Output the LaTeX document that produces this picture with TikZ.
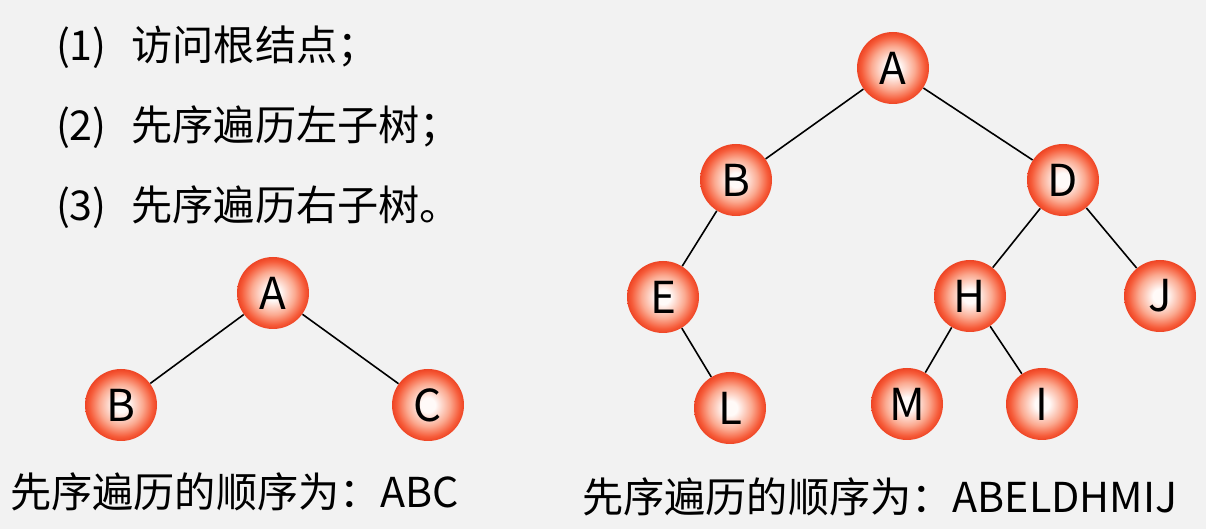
\documentclass[tikz,border=0pt]{standalone}
\usepackage{fontspec}
\setmainfont{Noto Sans CJK SC}
\definecolor{bggray}{RGB}{242,242,242}
\definecolor{ballin}{RGB}{255,250,248}
\definecolor{ballmid}{RGB}{251,170,145}
\definecolor{ballout}{RGB}{246,92,58}
\definecolor{balledge}{RGB}{238,68,36}
\pgfdeclareradialshading{redball}{\pgfpointorigin}{color(0bp)=(ballin); color(5bp)=(ballin); color(15bp)=(ballmid); color(22bp)=(ballout); color(25bp)=(balledge); color(50bp)=(balledge)}
\newcommand{\txt}{\fontsize{20.6}{24}\selectfont}

\begin{document}
\begin{tikzpicture}[x=0.5pt,y=-0.5pt,
    treenode/.style={circle, inner sep=0pt, minimum size=36pt, shading=redball,
      font=\fontsize{22}{22}\selectfont},
    edge/.style={line width=0.8pt}]
        \fill[bggray] (0,0) rectangle (1206,529);
        \useasboundingbox (0,0) rectangle (1206,529);

        % rules
        \node[anchor=west,font=\txt] (s1) at (49,47) {(1)\hspace{0.6em}访问根结点；};
        \node[anchor=west,font=\txt] (s2) at (49,127) {(2)\hspace{0.6em}先序遍历左子树；};
        \node[anchor=west,font=\txt] (s3) at (49,207) {(3)\hspace{0.6em}先序遍历右子树。};

        % small tree
        \node[treenode] (a) at (273,293) {A};
        \node[treenode] (b) at (121,405) {B};
        \node[treenode] (c) at (428,405) {C};
        \draw[edge] (a) -- (b);
        \draw[edge] (a) -- (c);

        \node[anchor=west,font=\txt] (r1) at (3,492) {先序遍历的顺序为：ABC};

        % large tree
        \node[treenode] (a2) at (893,68) {A};
        \node[treenode] (b2) at (736,180) {B};
        \node[treenode] (d2) at (1063,180) {D};
        \node[treenode] (e2) at (663,297) {E};
        \node[treenode] (h2) at (970,296) {H};
        \node[treenode] (j2) at (1160,296) {J};
        \node[treenode] (l2) at (730,408) {L};
        \node[treenode] (m2) at (907,404) {M};
        \node[treenode] (i2) at (1042,404) {I};

        \draw[edge] (a2) -- (b2);
        \draw[edge] (a2) -- (d2);
        \draw[edge] (b2) -- (e2);
        \draw[edge] (e2) -- (l2);
        \draw[edge] (d2) -- (h2);
        \draw[edge] (d2) -- (j2);
        \draw[edge] (h2) -- (m2);
        \draw[edge] (h2) -- (i2);

        \node[anchor=west,font=\txt] (r2) at (575,497) {先序遍历的顺序为：ABELDHMIJ};
      \end{tikzpicture}
\end{document}
